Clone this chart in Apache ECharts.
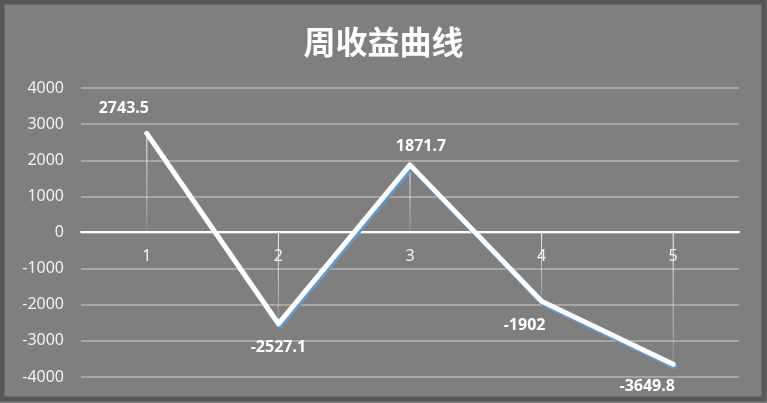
<!DOCTYPE html>
<html>
<head>
<meta charset="utf-8">
<script src="https://cdn.jsdelivr.net/npm/echarts@6/dist/echarts.min.js"></script>
<style>
html, body { margin: 0; padding: 0; background: #7f7f7f; }
#chart { width: 767px; height: 403px; }
</style>
</head>
<body>
<div id="chart"></div>
<script>
var titleText = '周收益曲线';
var categories = ['1', '2', '3', '4', '5'];
var profit = [2743.5, -2527.1, 1871.7, -1902, -3649.8];
var labelOffsets = [[-23, -11], [0, 10], [11, -4], [-17, 10], [-26, 8]];

var myChart = echarts.init(document.getElementById('chart'));

var lineData = [];
for (var i = 0; i < profit.length; i++) {
	lineData.push({
		value: profit[i],
		label: { offset: labelOffsets[i], position: profit[i] >= 0 ? 'top' : 'bottom' }
	});
}

var option = {
	backgroundColor: '#7f7f7f',
	animation: false,
	title: {
		text: titleText,
		left: 'center',
		top: 21,
		textStyle: {
			color: '#fff',
			fontSize: 32,
			fontWeight: 'bold',
			fontFamily: '"Noto Sans CJK SC"'
		}
	},
	graphic: [{
		type: 'rect',
		silent: true,
		z: -1,
		shape: { x: 2, y: 2, width: 762, height: 397 },
		style: { fill: 'none', stroke: '#575757', lineWidth: 5 }
	}],
	grid: { left: 81, right: 28, top: 88, bottom: 26 },
	xAxis: {
		type: 'category',
		data: categories,
		position: 'bottom',
		offset: -145,
		axisLine: { onZero: false, lineStyle: { color: '#fff', width: 2 } },
		axisTick: { show: false },
		axisLabel: { color: '#f2f2f2', fontSize: 16, fontFamily: '"Noto Sans"', margin: 16 }
	},
	yAxis: {
		type: 'value',
		min: -4000,
		max: 4000,
		interval: 1000,
		axisLine: { show: false },
		axisTick: { show: false },
		axisLabel: {
			color: '#f2f2f2', fontSize: 16, fontFamily: '"Noto Sans"', margin: 17,
			formatter: function (v) { return String(v); }
		},
		splitLine: { lineStyle: { color: '#a6a6a6', width: 2 } }
	},
	series: [{
		name: 'drop',
		type: 'bar',
		barWidth: 1,
		silent: true,
		itemStyle: {
			color: new echarts.graphic.LinearGradient(0, 0, 0, 1, [
				{ offset: 0, color: 'rgba(255,255,255,0.95)' },
				{ offset: 1, color: 'rgba(255,255,255,0.15)' }
			])
		},
		data: profit
	}, {
		name: 'profit',
		type: 'line',
		symbol: 'circle',
		symbolSize: 2,
		itemStyle: { color: '#fff' },
		lineStyle: {
			color: '#fff',
			width: 5,
			cap: 'round',
			join: 'round',
			shadowColor: '#5b9bd5',
			shadowBlur: 0,
			shadowOffsetX: 1.5,
			shadowOffsetY: 2.5
		},
		label: {
			show: true,
			color: '#fff',
			fontSize: 16,
			fontWeight: 'bold',
			fontFamily: '"Noto Sans"'
		},
		data: lineData
	}]
};
myChart.setOption(option);
</script>
</body>
</html>
